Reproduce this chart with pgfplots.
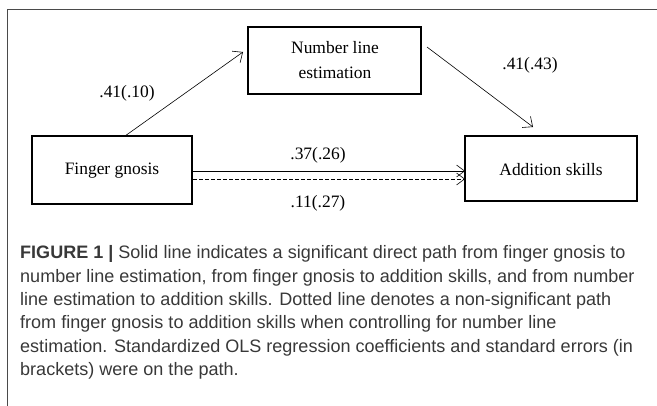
\documentclass[border=0pt]{standalone}
\usepackage{fontspec}
\setmainfont{Liberation Serif}
\newfontfamily\capfont{Liberation Sans}
\usepackage{pgfplots}
\pgfplotsset{compat=1.18}
\usetikzlibrary{arrows.meta}
\definecolor{captext}{HTML}{383838}
\definecolor{framecol}{HTML}{4A4A4A}
\begin{document}
\begin{tikzpicture}
\begin{axis}[at={(0,0)}, anchor=south west, width=657bp, height=406bp, scale only axis,
  xmin=0, xmax=657, ymin=0, ymax=406, y dir=reverse, hide axis, clip=false]
% frame
\addplot[framecol, line width=1.3bp] coordinates {(7.5,406) (7.5,9.5) (657,9.5)};
% boxes
\addplot[black, line width=1.2bp, line cap=rect] coordinates {(32,136) (192,136) (192,204) (32,204) (32,136)};
\addplot[black, line width=1.2bp, line cap=rect] coordinates {(248,27) (421,27) (421,94) (248,94) (248,27)};
\addplot[black, line width=1.2bp, line cap=rect] coordinates {(465,136) (637,136) (637,201) (465,201) (465,136)};
% arrows
\addplot[black, line width=0.6bp, -{Straight Barb[length=8bp,width=14bp]}] coordinates {(125,136) (243,52)};
\addplot[black, line width=0.6bp, -{Straight Barb[length=8bp,width=14bp]}] coordinates {(427,47) (533,127)};
\addplot[black, line width=0.6bp, -{Straight Barb[length=8bp,width=12bp]}] coordinates {(193,171) (465,171)};
\addplot[black, line width=0.6bp, dashed, dash pattern=on 4bp off 2bp, -{Straight Barb[length=8bp,width=12bp]}] coordinates {(193,179) (465,179)};
% box texts
\begin{scope}[every node/.style={font=\fontsize{17.5}{20}\selectfont, inner sep=0pt}]
\node at (axis cs:112,171) {Finger gnosis};
\node at (axis cs:335,48) {Number line};
\node at (axis cs:335,73) {estimation};
\node at (axis cs:551,170) {Addition skills};
\node at (axis cs:127,93) {.41(.10)};
\node at (axis cs:530,65) {.41(.43)};
\node at (axis cs:318,155) {.37(.26)};
\node at (axis cs:318,203) {.11(.27)};
\end{scope}
% caption
\begin{scope}[every node/.style={font=\capfont\fontsize{18.1}{21}\selectfont, text=captext, anchor=west, inner sep=0pt}]
\node at (axis cs:20,254) {\textbf{FIGURE 1 |} Solid line indicates a significant direct path from finger gnosis to};
\node at (axis cs:20,277.5) {number line estimation, from finger gnosis to addition skills, and from number};
\node at (axis cs:20,301) {line estimation to addition skills. Dotted line denotes a non-significant path};
\node at (axis cs:20,324) {from finger gnosis to addition skills when controlling for number line};
\node at (axis cs:20,347.5) {estimation. Standardized OLS regression coefficients and standard errors (in};
\node at (axis cs:20,371) {brackets) were on the path.};
\end{scope}
\end{axis}
\pgfresetboundingbox
\path (0,0) rectangle (657bp,406bp);
\end{tikzpicture}
\end{document}
